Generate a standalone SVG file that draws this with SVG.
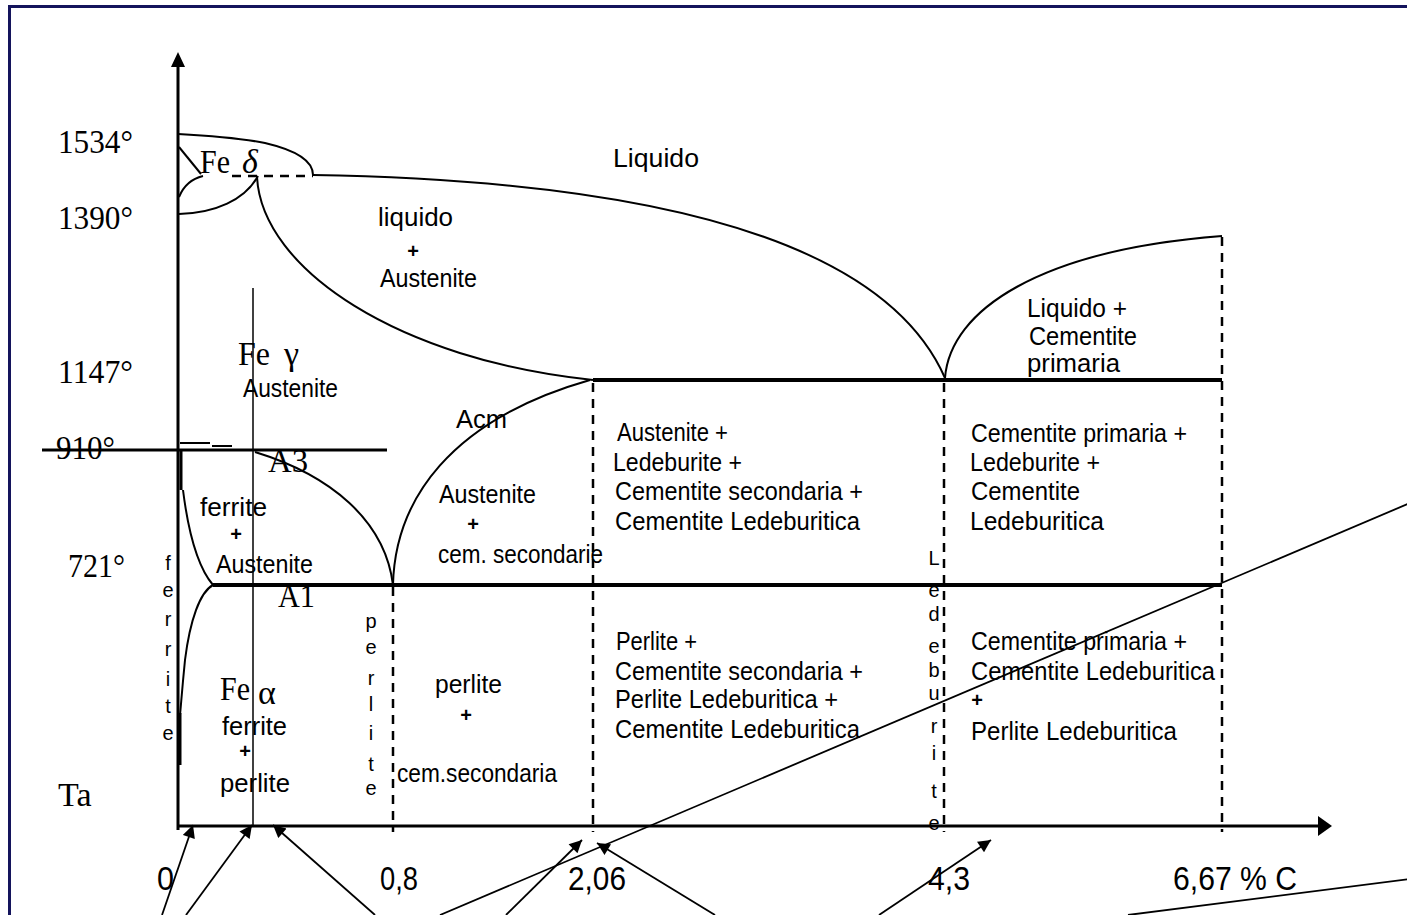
<svg xmlns="http://www.w3.org/2000/svg" width="1407" height="915" viewBox="0 0 1407 915">
<style>
.ln{fill:none;stroke:#000;stroke-width:2}
.ax{fill:none;stroke:#000;stroke-width:3}
.thk{fill:none;stroke:#000;stroke-width:4}
.ds{fill:none;stroke:#000;stroke-width:2.5;stroke-dasharray:9 7}
.th{fill:none;stroke:#000;stroke-width:1.5}
.ar{fill:none;stroke:#000;stroke-width:1.8}
.s{font-family:"Liberation Sans",Arial,sans-serif;font-size:26px;fill:#000}
.t{font-family:"Liberation Serif","Times New Roman",serif;font-size:34px;fill:#000}
.n{font-family:"Liberation Sans",Arial,sans-serif;font-size:34px;fill:#000}
.p{font-family:"Liberation Sans",Arial,sans-serif;font-size:20px;fill:#000;text-anchor:middle;font-weight:bold}
.v{font-family:"Liberation Sans",Arial,sans-serif;font-size:20px;fill:#000;text-anchor:middle}
</style>
<defs>
<marker id="ah" viewBox="0 0 10 10" refX="10" refY="5" markerWidth="8" markerHeight="7" markerUnits="strokeWidth" orient="auto">
<path d="M0,0 L10,5 L0,10 z" fill="#000"/>
</marker>
</defs>
<rect x="0" y="0" width="1407" height="915" fill="#fff"/>
<g id="frame">
<path d="M9.5,920 V6.5 H1410" fill="none" stroke="#14145c" stroke-width="3"/>
</g>
<g id="axes">
<line class="ax" x1="178" y1="64" x2="178" y2="830"/>
<path d="M178,52 L171,67 L185,67 z" fill="#000"/>
<line class="ax" x1="178" y1="826" x2="1320" y2="826"/>
<path d="M1332,826 L1318,816 L1318,836 z" fill="#000"/>
</g>
<g id="curves">
<path class="ln" d="M178,134 C215,136 250,140 265,143 C295,150 313,160 313,175"/>
<path class="ln" d="M179,147 L201,174"/>
<path class="ln" d="M179,197 Q186,180 203,176"/>
<path class="ln" d="M179,214 C215,213 245,200 258,176"/>
<line class="ds" x1="232" y1="176" x2="313" y2="176"/>
<path class="ln" d="M313,175 C620,180 880,230 945,378"/>
<path class="ln" d="M257,177 C262,270 400,360 593,380"/>
<line class="thk" x1="593" y1="380" x2="1222" y2="380"/>
<path class="ln" d="M945,378 C950,310 1040,250 1222,236"/>
<line class="ax" x1="42" y1="450" x2="387" y2="450"/>
<line class="ln" x1="180" y1="443" x2="210" y2="443"/>
<line class="ln" x1="212" y1="446" x2="232" y2="446"/>
<line class="ax" x1="181" y1="450" x2="181" y2="490"/>
<path class="ln" d="M183,490 C188,530 196,565 213,585"/>
<path class="ln" d="M255,452 C330,475 385,520 393,585"/>
<path class="ln" d="M393,585 C395,500 450,420 590,380"/>
<line class="thk" x1="213" y1="585" x2="1222" y2="585"/>
<path class="ln" d="M213,585 C200,592 190,620 185,660 C182,690 181,705 180,715"/>
<line class="ax" x1="180" y1="713" x2="180" y2="765"/>
<line class="th" x1="253" y1="288" x2="253" y2="826"/>
<line class="ds" x1="393" y1="587" x2="393" y2="832"/>
<line class="ds" x1="593" y1="383" x2="593" y2="832"/>
<line class="ds" x1="944" y1="383" x2="944" y2="832"/>
<line class="ds" x1="1222" y1="237" x2="1222" y2="832"/>
</g>
<g id="labels">
<text class="t" x="58" y="153" textLength="75" lengthAdjust="spacingAndGlyphs">1534°</text>
<text class="t" x="58" y="229" textLength="75" lengthAdjust="spacingAndGlyphs">1390°</text>
<text class="t" x="58" y="383" textLength="75" lengthAdjust="spacingAndGlyphs">1147°</text>
<text class="t" x="56" y="459" textLength="59" lengthAdjust="spacingAndGlyphs">910°</text>
<text class="t" x="68" y="577" textLength="57" lengthAdjust="spacingAndGlyphs">721°</text>
<text class="t" x="58" y="806">Ta</text>
<text class="t" x="200" y="173" textLength="30" lengthAdjust="spacingAndGlyphs">Fe</text>
<text class="t" x="242" y="173" font-style="italic" font-size="28">δ</text>
<text class="t" x="238" y="365" textLength="32" lengthAdjust="spacingAndGlyphs">Fe</text>
<text class="t" x="284" y="365" font-size="28">γ</text>
<text class="t" x="268" y="472" textLength="40" lengthAdjust="spacingAndGlyphs">A3</text>
<text class="t" x="278" y="607" textLength="37" lengthAdjust="spacingAndGlyphs">A1</text>
<text class="t" x="220" y="700" textLength="30" lengthAdjust="spacingAndGlyphs">Fe</text>
<text class="t" x="258" y="704" font-size="28">α</text>
<text class="s" x="613" y="167" textLength="86" lengthAdjust="spacingAndGlyphs">Liquido</text>
<text class="s" x="378" y="226" textLength="75" lengthAdjust="spacingAndGlyphs">liquido</text>
<text class="p" x="413" y="258">+</text>
<text class="s" x="380" y="287" textLength="97" lengthAdjust="spacingAndGlyphs">Austenite</text>
<text class="s" x="243" y="397" textLength="95" lengthAdjust="spacingAndGlyphs">Austenite</text>
<text class="s" x="200" y="516" textLength="67" lengthAdjust="spacingAndGlyphs">ferrite</text>
<text class="p" x="236" y="541">+</text>
<text class="s" x="216" y="573" textLength="97" lengthAdjust="spacingAndGlyphs">Austenite</text>
<text class="s" x="456" y="428" textLength="51" lengthAdjust="spacingAndGlyphs">Acm</text>
<text class="s" x="439" y="503" textLength="97" lengthAdjust="spacingAndGlyphs">Austenite</text>
<text class="p" x="473" y="531">+</text>
<text class="s" x="438" y="563" textLength="165" lengthAdjust="spacingAndGlyphs">cem. secondarie</text>
<text class="s" x="617" y="441" textLength="111" lengthAdjust="spacingAndGlyphs">Austenite +</text>
<text class="s" x="613" y="471" textLength="129" lengthAdjust="spacingAndGlyphs">Ledeburite +</text>
<text class="s" x="615" y="500" textLength="248" lengthAdjust="spacingAndGlyphs">Cementite secondaria +</text>
<text class="s" x="615" y="530" textLength="245" lengthAdjust="spacingAndGlyphs">Cementite Ledeburitica</text>
<text class="s" x="616" y="650" textLength="81" lengthAdjust="spacingAndGlyphs">Perlite +</text>
<text class="s" x="615" y="680" textLength="248" lengthAdjust="spacingAndGlyphs">Cementite secondaria +</text>
<text class="s" x="615" y="708" textLength="223" lengthAdjust="spacingAndGlyphs">Perlite Ledeburitica +</text>
<text class="s" x="615" y="738" textLength="245" lengthAdjust="spacingAndGlyphs">Cementite Ledeburitica</text>
<text class="s" x="435" y="693" textLength="67" lengthAdjust="spacingAndGlyphs">perlite</text>
<text class="p" x="466" y="722">+</text>
<text class="s" x="397" y="782" textLength="160" lengthAdjust="spacingAndGlyphs">cem.secondaria</text>
<text class="s" x="1027" y="317" textLength="100" lengthAdjust="spacingAndGlyphs">Liquido +</text>
<text class="s" x="1029" y="345" textLength="108" lengthAdjust="spacingAndGlyphs">Cementite</text>
<text class="s" x="1027" y="372" textLength="93" lengthAdjust="spacingAndGlyphs">primaria</text>
<text class="s" x="971" y="442" textLength="216" lengthAdjust="spacingAndGlyphs">Cementite primaria +</text>
<text class="s" x="970" y="471" textLength="130" lengthAdjust="spacingAndGlyphs">Ledeburite +</text>
<text class="s" x="971" y="500" textLength="109" lengthAdjust="spacingAndGlyphs">Cementite</text>
<text class="s" x="970" y="530" textLength="134" lengthAdjust="spacingAndGlyphs">Ledeburitica</text>
<text class="s" x="971" y="650" textLength="216" lengthAdjust="spacingAndGlyphs">Cementite primaria +</text>
<text class="s" x="971" y="680" textLength="244" lengthAdjust="spacingAndGlyphs">Cementite Ledeburitica</text>
<text class="p" x="977" y="707">+</text>
<text class="s" x="971" y="740" textLength="206" lengthAdjust="spacingAndGlyphs">Perlite Ledeburitica</text>
<text class="s" x="222" y="735" textLength="65" lengthAdjust="spacingAndGlyphs">ferrite</text>
<text class="p" x="245" y="758">+</text>
<text class="s" x="220" y="792" textLength="70" lengthAdjust="spacingAndGlyphs">perlite</text>
<text class="v" x="168"><tspan x="168" y="570">f</tspan><tspan x="168" y="597">e</tspan><tspan x="168" y="626">r</tspan><tspan x="168" y="656">r</tspan><tspan x="168" y="686">i</tspan><tspan x="168" y="713">t</tspan><tspan x="168" y="740">e</tspan></text>
<text class="v" x="371"><tspan x="371" y="628">p</tspan><tspan x="371" y="654">e</tspan><tspan x="371" y="685">r</tspan><tspan x="371" y="711">l</tspan><tspan x="371" y="740">i</tspan><tspan x="371" y="771">t</tspan><tspan x="371" y="795">e</tspan></text>
<text class="v" x="934"><tspan x="934" y="565">L</tspan><tspan x="934" y="597">e</tspan><tspan x="934" y="621">d</tspan><tspan x="934" y="653">e</tspan><tspan x="934" y="677">b</tspan><tspan x="934" y="700">u</tspan><tspan x="934" y="733">r</tspan><tspan x="934" y="760">i</tspan><tspan x="934" y="798">t</tspan><tspan x="934" y="830">e</tspan></text>
<text class="n" x="157" y="890" textLength="17" lengthAdjust="spacingAndGlyphs">0</text>
<text class="n" x="380" y="890" textLength="38" lengthAdjust="spacingAndGlyphs">0,8</text>
<text class="n" x="568" y="890" textLength="58" lengthAdjust="spacingAndGlyphs">2,06</text>
<text class="n" x="928" y="890" textLength="42" lengthAdjust="spacingAndGlyphs">4,3</text>
<text class="n" x="1173" y="890" textLength="124" lengthAdjust="spacingAndGlyphs">6,67 % C</text>
</g>
<g id="connectors">
<line class="ar" x1="162" y1="915" x2="193" y2="825" marker-end="url(#ah)"/>
<line class="ar" x1="186" y1="915" x2="252" y2="825" marker-end="url(#ah)"/>
<line class="ar" x1="375" y1="915" x2="273" y2="825" marker-end="url(#ah)"/>
<line class="ar" x1="506" y1="915" x2="582" y2="840" marker-end="url(#ah)"/>
<line class="ar" x1="715" y1="915" x2="597" y2="843" marker-end="url(#ah)"/>
<line class="ar" x1="879" y1="915" x2="991" y2="840" marker-end="url(#ah)"/>
<line class="ar" x1="440" y1="915" x2="1410" y2="503"/>
<line class="ar" x1="1128" y1="915" x2="1410" y2="879"/>
</g>
</svg>
